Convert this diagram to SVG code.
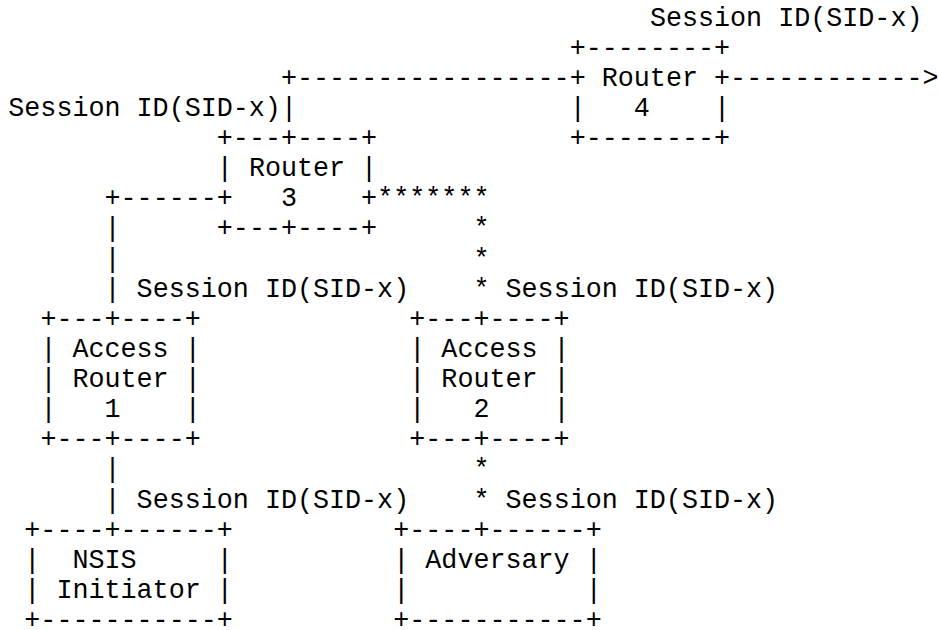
<svg xmlns="http://www.w3.org/2000/svg" width="939" height="630" viewBox="0 0 939 630" xml:space="preserve">
<style>
text { font-family: "Liberation Mono", "Courier New", monospace; font-size: 26.73px; fill: #000; white-space: pre; }
</style>
<rect width="939" height="630" fill="#fff"/>
<g id="connectors">
<text x="281" y="85.5">+-----------------</text>
<text x="730.1" y="85.5">------------&gt;</text>
<text x="281" y="115.89">|</text>
<text x="104.54" y="206.28">+------</text>
<text x="377.22" y="206.28">*******</text>
<text x="104.54" y="236.41">|</text>
<text x="473.46" y="236.41">*</text>
<text x="104.54" y="266.54">|</text>
<text x="473.46" y="266.54">*</text>
<text x="104.54" y="296.67">|</text>
<text x="473.46" y="296.67">*</text>
<text x="104.54" y="477.45">|</text>
<text x="473.46" y="477.45">*</text>
<text x="104.54" y="507.58">|</text>
<text x="473.46" y="507.58">*</text>
</g>
<g id="labels">
<text x="649.9" y="25.5">Session ID(SID-x)</text>
<text x="8.3" y="115.89">Session ID(SID-x)</text>
<text x="136.62" y="296.67">Session ID(SID-x)</text>
<text x="505.54" y="296.67">Session ID(SID-x)</text>
<text x="136.62" y="507.58">Session ID(SID-x)</text>
<text x="505.54" y="507.58">Session ID(SID-x)</text>
</g>
<g id="router4">
<text x="569.7" y="55.63">+--------+</text>
<text x="569.7" y="85.5">+ Router +</text>
<text x="569.7" y="115.89">|   4    |</text>
<text x="569.7" y="146.02">+--------+</text>
</g>
<g id="router3">
<text x="216.82" y="146.02">+---+----+</text>
<text x="216.82" y="176.15">| Router |</text>
<text x="216.82" y="206.28">+   3    +</text>
<text x="216.82" y="236.41">+---+----+</text>
</g>
<g id="access-router-1">
<text x="40.38" y="326.8">+---+----+</text>
<text x="40.38" y="356.93">| Access |</text>
<text x="40.38" y="387.06">| Router |</text>
<text x="40.38" y="417.19">|   1    |</text>
<text x="40.38" y="447.32">+---+----+</text>
</g>
<g id="access-router-2">
<text x="409.3" y="326.8">+---+----+</text>
<text x="409.3" y="356.93">| Access |</text>
<text x="409.3" y="387.06">| Router |</text>
<text x="409.3" y="417.19">|   2    |</text>
<text x="409.3" y="447.32">+---+----+</text>
</g>
<g id="nsis-initiator">
<text x="24.34" y="537.71">+----+------+</text>
<text x="24.34" y="567.84">|  NSIS     |</text>
<text x="24.34" y="597.97">| Initiator |</text>
<text x="24.34" y="627.6">+-----------+</text>
</g>
<g id="adversary">
<text x="393.26" y="537.71">+----+------+</text>
<text x="393.26" y="567.84">| Adversary |</text>
<text x="393.26" y="597.97">|           |</text>
<text x="393.26" y="627.6">+-----------+</text>
</g>
</svg>
